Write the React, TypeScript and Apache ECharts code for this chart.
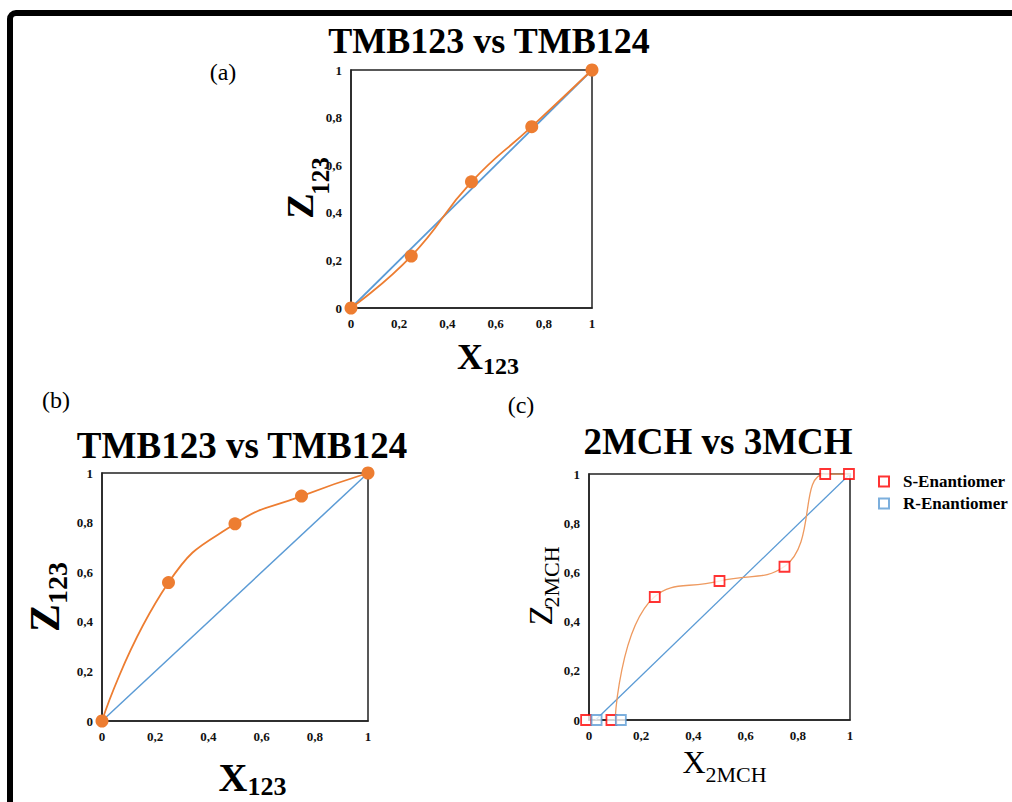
import React, { useEffect, useRef } from 'react';
import * as echarts from 'echarts';

// ---------- data ----------
const tickValues = [0, 0.2, 0.4, 0.6, 0.8, 1];
const diagX = [0, 1];
const diagZ = [0, 1];
// panel (a)
const aX = [0, 0.25, 0.5, 0.75, 1];
const aZ = [0, 0.218, 0.53, 0.762, 1];
// panel (b)
const bX = [0, 0.25, 0.5, 0.75, 1];
const bZ = [0, 0.558, 0.795, 0.907, 1];
// panel (c)
const cDiagX = [0.025, 1];
const cDiagZ = [0, 1];
const curveX = [0.1, 0.25, 0.5, 0.75, 0.905, 1];
const curveZ = [0, 0.5, 0.565, 0.625, 1, 1];
const sX = [-0.011, 0.086, 0.252, 0.5, 0.749, 0.905, 0.996];
const sZ = [0, 0, 0.5, 0.565, 0.623, 1, 1];
const rX = [0.029, 0.122];
const rZ = [0, 0];
const seriesNames = ['S-Enantiomer', 'R-Enantiomer'];

const zip = (xs: number[], zs: number[]) => xs.map((x, i) => [x, zs[i]]);

const SERIF = '"Liberation Serif", "Times New Roman", serif';
const ORANGE = '#ED7D31';
const BLUE = '#5B9BD5';

const fmt = (v: number) => {
  const r = Math.round(v * 10) / 10;
  return String(r).replace('.', ',');
};

const axisFor = (gridIndex: number) => ({
  type: 'value',
  gridIndex,
  min: 0,
  max: 1,
  interval: tickValues[1] - tickValues[0],
  splitLine: { show: false },
  axisTick: { show: false },
  axisLine: { show: true, onZero: false, lineStyle: { color: '#222', width: 1.5 } },
  axisLabel: {
    fontFamily: SERIF,
    fontWeight: 'bold',
    fontSize: 13,
    color: '#111',
    margin: 9,
    formatter: fmt,
  },
});

const txt = (
  text: string,
  x: number,
  y: number,
  size: number,
  weight: string,
  rotation = 0
) => ({
  type: 'text',
  x,
  y,
  rotation,
  style: {
    text,
    fill: '#000',
    font: `${weight} ${size}px ${SERIF}`,
    fontSize: size,
    fontWeight: weight,
    fontFamily: SERIF,
    textAlign: 'center',
    textVerticalAlign: 'middle',
  },
});

export default function App() {
  const ref = useRef<HTMLDivElement>(null);

  useEffect(() => {
    if (!ref.current) return;
    const chart = echarts.init(ref.current, null, { renderer: 'svg' });
    const gridStyle = { show: true, borderColor: '#222', borderWidth: 1.5, backgroundColor: 'transparent' };
    const option: any = {
      animation: false,
      backgroundColor: '#fff',
      grid: [
        { left: 351, top: 70, width: 241, height: 238, ...gridStyle },
        { left: 102, top: 473, width: 266, height: 248, ...gridStyle },
        { left: 589, top: 474, width: 261, height: 246, ...gridStyle },
      ],
      xAxis: [axisFor(0), axisFor(1), axisFor(2)],
      yAxis: [axisFor(0), axisFor(1), axisFor(2)],
      legend: {
        orient: 'vertical',
        left: 878,
        top: 473,
        padding: 0,
        itemWidth: 10,
        itemHeight: 10,
        itemGap: 5,
        textStyle: {
          fontFamily: SERIF, fontWeight: 'bold', fontSize: 17, color: '#000',
          padding: [0, 0, 0, 9],
        },
        data: [
          { name: seriesNames[0], icon: 'rect' },
          { name: seriesNames[1], icon: 'rect' },
        ],
      },
      series: [
        // (a)
        {
          type: 'line', xAxisIndex: 0, yAxisIndex: 0, data: zip(diagX, diagZ),
          symbol: 'none', lineStyle: { color: BLUE, width: 1.8 }, z: 2,
        },
        {
          type: 'line', xAxisIndex: 0, yAxisIndex: 0, data: zip(aX, aZ), smooth: true,
          symbol: 'circle', symbolSize: 13, itemStyle: { color: ORANGE },
          lineStyle: { color: ORANGE, width: 1.8 }, z: 3, clip: false,
        },
        // (b)
        {
          type: 'line', xAxisIndex: 1, yAxisIndex: 1, data: zip(diagX, diagZ),
          symbol: 'none', lineStyle: { color: BLUE, width: 1.5 }, z: 2,
        },
        {
          type: 'line', xAxisIndex: 1, yAxisIndex: 1, data: zip(bX, bZ), smooth: true,
          symbol: 'circle', symbolSize: 13, itemStyle: { color: ORANGE },
          lineStyle: { color: ORANGE, width: 1.8 }, z: 3, clip: false,
        },
        // (c)
        {
          type: 'line', xAxisIndex: 2, yAxisIndex: 2, data: zip(cDiagX, cDiagZ),
          symbol: 'none', lineStyle: { color: BLUE, width: 1.3 }, z: 2,
        },
        {
          type: 'line', xAxisIndex: 2, yAxisIndex: 2, data: zip(curveX, curveZ), smooth: true,
          symbol: 'none', lineStyle: { color: '#EE9A60', width: 1.3 }, z: 2,
        },
        {
          name: seriesNames[0], type: 'scatter', xAxisIndex: 2, yAxisIndex: 2,
          data: zip(sX, sZ), symbol: 'rect', symbolSize: 10, clip: false,
          itemStyle: { color: '#fff', borderColor: '#FF0000', borderWidth: 1.8 }, z: 4,
        },
        {
          name: seriesNames[1], type: 'scatter', xAxisIndex: 2, yAxisIndex: 2,
          data: zip(rX, rZ), symbol: 'rect', symbolSize: 10, clip: false,
          itemStyle: { color: '#fff', borderColor: BLUE, borderWidth: 1.8 }, z: 4,
        },
      ],
      graphic: [
        {
          type: 'rect', shape: { x: 10, y: 13, width: 1200, height: 1000, r: 6 },
          style: { fill: 'none', stroke: '#000', lineWidth: 6 }, silent: true,
        },
        // titles
        txt('TMB123 vs TMB124', 489, 41, 36, 'bold'),
        txt('TMB123 vs TMB124', 242, 445, 37, 'bold'),
        txt('2MCH vs 3MCH', 718, 441, 37, 'bold'),
        // panel labels
        txt('(a)', 223, 72, 24, 'normal'),
        txt('(b)', 56, 400, 24, 'normal'),
        txt('(c)', 521, 405, 24, 'normal'),
        // axis names (a)
        txt('X', 470, 357, 36, 'bold'),
        txt('123', 501, 366, 24, 'bold'),
        txt('Z', 300, 206, 38, 'bold', Math.PI / 2),
        txt('123', 320, 176, 25, 'bold', Math.PI / 2),
        // axis names (b)
        txt('X', 233, 777, 40, 'bold'),
        txt('123', 267, 786, 26, 'bold'),
        txt('Z', 45, 618, 42, 'bold', Math.PI / 2),
        txt('123', 57, 583, 28, 'bold', Math.PI / 2),
        // axis names (c)
        txt('X', 694, 762, 32, 'normal'),
        txt('2MCH', 736, 774, 22, 'normal'),
        txt('Z', 540, 615, 34, 'normal', Math.PI / 2),
        txt('2MCH', 551, 577, 22, 'normal', Math.PI / 2),
      ],
    };
    chart.setOption(option);
    return () => chart.dispose();
  }, []);

  return (
    <div
      ref={ref}
      style={{ position: 'absolute', left: 0, top: 0, width: 1012, height: 802 }}
    />
  );
}
